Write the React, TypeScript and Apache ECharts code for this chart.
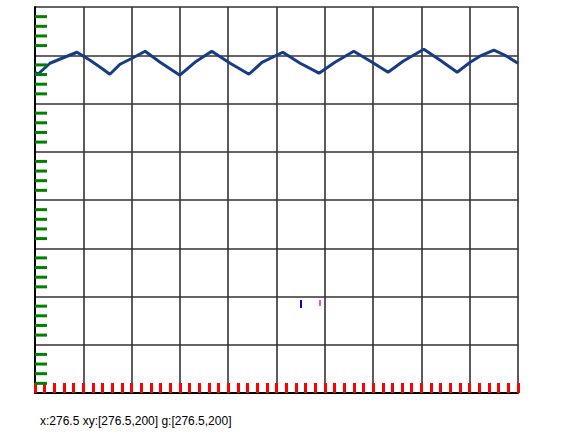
import React, { useEffect, useRef } from "react";
import * as echarts from "echarts";

const voutT = [-5.0, -4.94, -4.69, -4.44, -4.13, -3.86, -3.65, -3.45, -3.24, -2.99, -2.72, -2.41, -2.0, -1.69, -1.34, -0.96, -0.57, -0.3, 0.13, 0.49, 0.88, 1.21, 1.6, 1.98, 2.31, 2.62, 3.05, 3.39, 3.74, 4.01, 4.21, 4.5, 4.73, 5.0];
const voutMv = [-1.76, -1.97, -0.83, -0.31, 0.31, -0.52, -1.24, -1.97, -0.93, -0.31, 0.41, -0.73, -2.07, -0.73, 0.41, -0.83, -1.97, -0.73, 0.31, -0.83, -1.86, -0.73, 0.41, -0.73, -1.76, -0.62, 0.62, -0.52, -1.76, -0.73, -0.1, 0.52, 0.0, -0.83];

const H_DIVS = 10;
const V_DIVS = 8;
const MINOR = 5;

export default function App() {
  const ref = useRef<HTMLDivElement>(null);

  useEffect(() => {
    if (!ref.current) return;
    const chart = echarts.init(ref.current, undefined, { renderer: "svg" });
    const xMin = -H_DIVS / 2, xMax = H_DIVS / 2;
    const yMin = -V_DIVS / 2, yMax = V_DIVS / 2;

    const tickData: number[][] = [];
    for (let i = 1; i < V_DIVS * MINOR; i++) if (i % MINOR !== 0) tickData.push([xMin, yMin + i / MINOR]);

    chart.setOption({
      animation: false,
      backgroundColor: "#fff",
      grid: { left: 35, top: 7, width: 483, height: 386 },
      xAxis: [
        { type: "value", min: xMin, max: xMax, interval: 1, position: "bottom", axisLabel: { show: false }, axisTick: { show: true, inside: true, length: 10, lineStyle: { color: "red", width: 3 } }, minorTick: { show: true, splitNumber: 5, length: 10, lineStyle: { color: "red", width: 3 } }, axisLine: { onZero: false, lineStyle: { color: "#000", width: 2 } }, splitLine: { show: true, lineStyle: { color: "#333", width: 1.6 } } },
      ],
      yAxis: [
        { type: "value", min: yMin, max: yMax, interval: 1, position: "left", axisLabel: { show: false }, axisTick: { show: false }, axisLine: { onZero: false, lineStyle: { color: "#000", width: 2 } }, splitLine: { show: true, lineStyle: { color: "#333", width: 1.6 } } },
        { type: "value", show: false, min: -35, max: 5 },
      ],
      series: [
        { type: "line", xAxisIndex: 0, yAxisIndex: 1, data: voutT.map((v, i) => [v, voutMv[i]]), showSymbol: false, lineStyle: { color: "#173c86", width: 3 } },
        {
          type: "custom",
          xAxisIndex: 0,
          yAxisIndex: 0,
          data: tickData,
          z: 20,
          renderItem: (_p: any, api: any) => {
            const c = api.coord([api.value(0), api.value(1)]);
            return { type: "rect", shape: { x: c[0], y: c[1] - 1.5, width: 12, height: 3 }, style: { fill: "green" } };
          },
        },
      ],
    });

    let dbg = "";
    try {
      const a = chart.convertToPixel({ xAxisIndex: 0 } as any, 0);
      const b = chart.convertToPixel({ xAxisIndex: 0, yAxisIndex: 0 } as any, [0, 0]);
      const c = chart.convertToPixel({ gridIndex: 0 } as any, [0, 0]);
      dbg = "x:" + JSON.stringify(a) + " xy:" + JSON.stringify(b) + " g:" + JSON.stringify(c);
    } catch (e: any) {
      dbg = "err " + String(e && e.message);
    }
    chart.setOption({
      graphic: [
        { type: "text", x: 40, y: 415, style: { text: dbg, font: "12px sans-serif", fill: "#000" } },
        { type: "rect", z: 60, shape: { x: 300, y: 300, width: 2, height: 8 }, style: { fill: "blue" } },
        { type: "line", z: 60, shape: { x1: 320, y1: 300, x2: 320, y2: 306 }, style: { stroke: "magenta", lineWidth: 1.5 } },
      ],
    });

    return () => chart.dispose();
  }, []);

  return <div ref={ref} style={{ position: "absolute", left: 0, top: 0, width: 564, height: 444, background: "#fff" }} />;
}
